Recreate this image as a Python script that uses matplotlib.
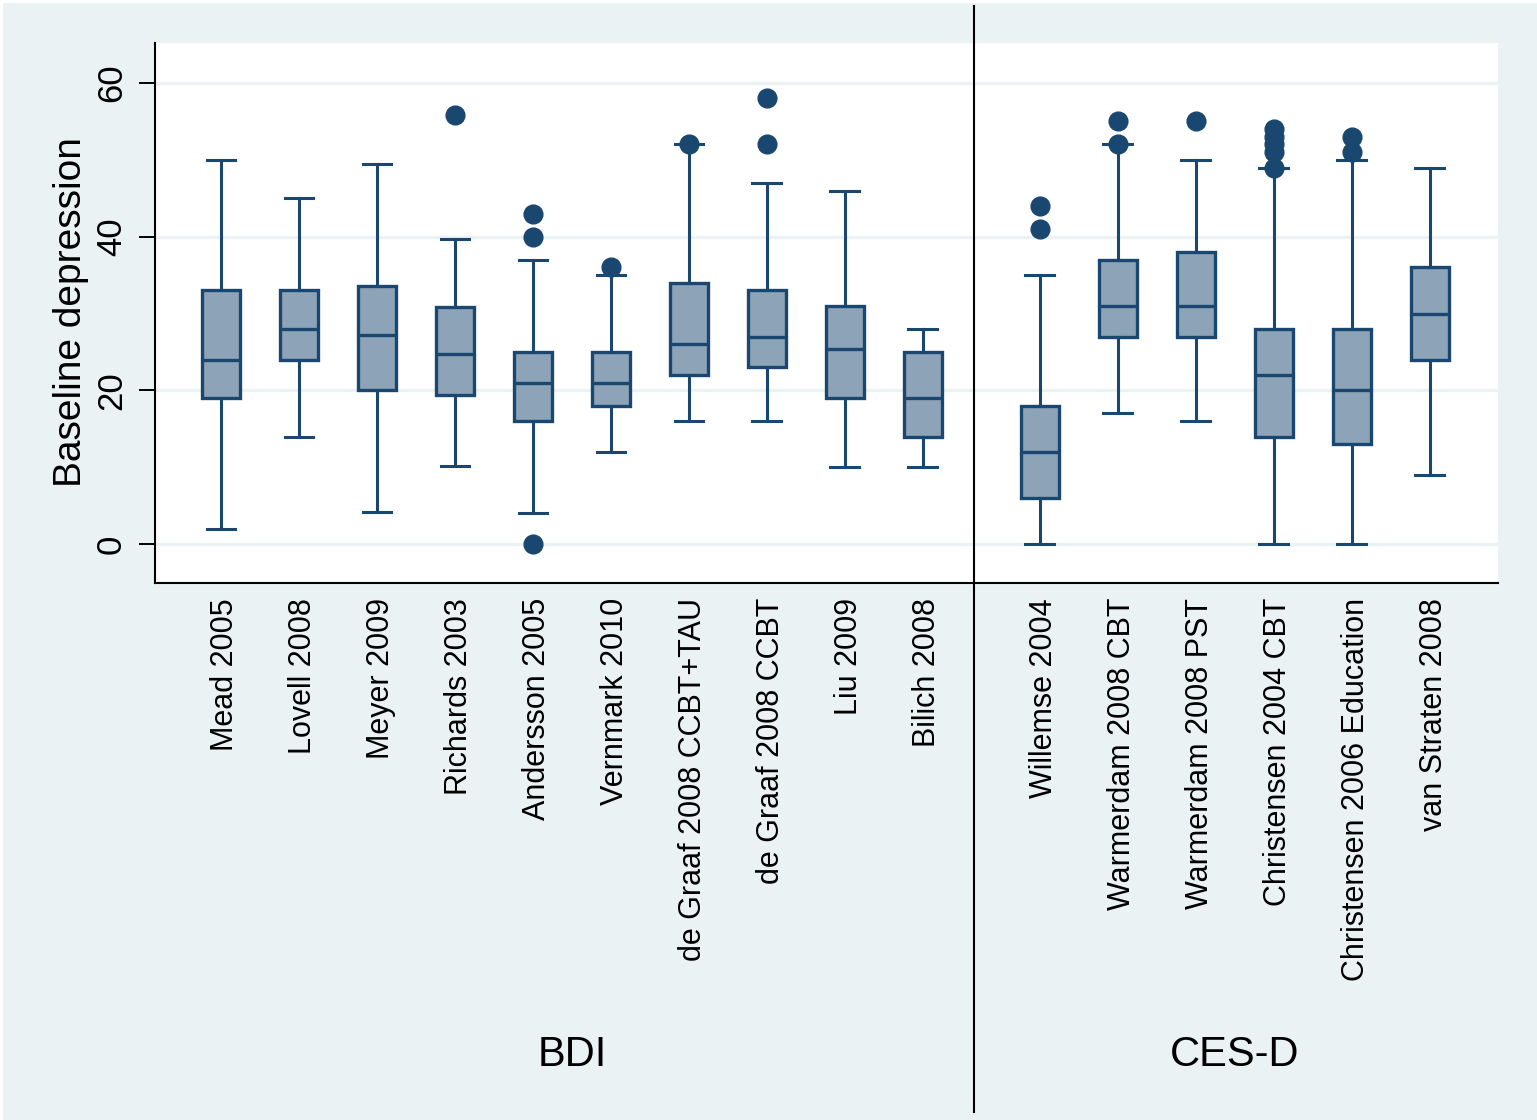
import numpy as np
import matplotlib
matplotlib.use("Agg")
import matplotlib.pyplot as plt
from matplotlib.lines import Line2D
from matplotlib.patches import Rectangle
from matplotlib.transforms import blended_transform_factory, ScaledTranslation

plt.rcParams['font.family'] = ['Liberation Sans', 'DejaVu Sans']

# Study labels per instrument
bdi_studies = ["Mead 2005", "Lovell 2008", "Meyer 2009", "Richards 2003",
               "Andersson 2005", "Vernmark 2010", "de Graaf 2008 CCBT+TAU",
               "de Graaf 2008 CCBT", "Liu 2009", "Bilich 2008"]
cesd_studies = ["Willemse 2004", "Warmerdam 2008 CBT", "Warmerdam 2008 PST",
                "Christensen 2004 CBT", "Christensen 2006 Education",
                "van Straten 2008"]
groups = ["BDI", "CES-D"]

# Box-plot summaries of baseline depression (BDI studies, then CES-D studies)
medians = [24, 28, 27.2, 24.7, 21, 21, 26, 27, 25.4, 19,
           12, 31, 31, 22, 20, 30]
q1s = [19, 24, 20, 19.4, 16, 18, 22, 23, 19, 14,
       6, 27, 27, 14, 13, 24]
q3s = [33, 33, 33.6, 30.8, 25, 25, 34, 33, 31, 25,
       18, 37, 38, 28, 28, 36]
whisker_lo = [2, 14, 4.2, 10.2, 4.1, 12, 16, 16, 10, 10,
              0, 17, 16, 0, 0, 9]
whisker_hi = [50, 45, 49.4, 39.7, 37, 35, 52, 47, 46, 28,
              35, 52, 50, 49, 50, 49]
outliers = [[], [], [], [55.8], [0, 40, 43], [36], [52], [52, 58], [], [],
            [41, 44], [52, 55], [55], [49, 51, 52, 53, 54], [51, 53], []]

navy = "#1A476F"
fill = "#8DA3B8"
bg = "#EAF2F3"

W, H = 1537, 1120
fig = plt.figure(figsize=(W / 100, H / 100), dpi=100, facecolor="white")
fig.patches.append(Rectangle((3 / W, 0), 1, (H - 3) / H, transform=fig.transFigure,
                             facecolor=bg, edgecolor="none", zorder=-10))

ax = fig.add_axes([155 / W, 1 - 583.3 / H, (1497.7 - 155) / W, (583.3 - 43) / H])
ax.set_facecolor("white")

n_bdi = len(bdi_studies)
pos_bdi = np.arange(n_bdi, dtype=float)
pos_cesd = n_bdi + 0.5 + np.arange(len(cesd_studies), dtype=float)
positions = np.concatenate([pos_bdi, pos_cesd])

stats = []
for i in range(len(medians)):
    stats.append(dict(med=medians[i], q1=q1s[i], q3=q3s[i],
                      whislo=whisker_lo[i], whishi=whisker_hi[i],
                      fliers=outliers[i]))

ax.bxp(stats, positions=positions, widths=0.48, capwidths=0.37,
       patch_artist=True, showfliers=True,
       boxprops=dict(facecolor=fill, edgecolor=navy, linewidth=2.4),
       medianprops=dict(color=navy, linewidth=2.4),
       whiskerprops=dict(color=navy, linewidth=2.2),
       capprops=dict(color=navy, linewidth=2.2),
       flierprops=dict(marker="o", markerfacecolor=navy, markeredgecolor=navy,
                       markersize=13.5, linestyle="none"))

ax.set_xlim(-0.846, 16.37)
ax.set_ylim(-5.1, 65.2)

# Axes styling
for side in ("top", "right"):
    ax.spines[side].set_visible(False)
for side in ("left", "bottom"):
    ax.spines[side].set_color("black")
    ax.spines[side].set_linewidth(1.5)

ax.set_yticks([0, 20, 40, 60])
ax.set_yticklabels(["0", "20", "40", "60"], rotation=90, va="center", ha="right",
                   fontsize=25)
ax.tick_params(axis="y", length=11.5, width=1.4, pad=8, colors="black")
ax.yaxis.grid(True, color=bg, linewidth=2.3)
ax.set_axisbelow(True)

ax.set_xticks(positions)
ax.set_xticklabels(bdi_studies + cesd_studies, rotation=90, fontsize=22)
ax.tick_params(axis="x", length=0, pad=10.5)
shift = ScaledTranslation(4 / 100, 0, fig.dpi_scale_trans)
for lab in ax.get_xticklabels():
    lab.set_transform(lab.get_transform() + shift)

# Instrument group labels beneath the study names
trans = blended_transform_factory(ax.transData, fig.transFigure)
ax.text(pos_bdi.mean(), 1 - 1055 / H, groups[0], transform=trans,
        ha="center", va="center", fontsize=30)
ax.text(pos_cesd.mean(), 1 - 1055 / H, groups[1], transform=trans,
        ha="center", va="center", fontsize=30)

# Vertical separator between the two instrument groups
fig.add_artist(Line2D([974 / W, 974 / W], [1 - 6 / H, 1 - 1112 / H],
                      transform=fig.transFigure, color="black", linewidth=1.5))

fig.text(71 / W, 1 - 312 / H, "Baseline depression", rotation=90,
         ha="center", va="center", fontsize=28)

fig.savefig("out.png", dpi=100, facecolor=fig.get_facecolor())
